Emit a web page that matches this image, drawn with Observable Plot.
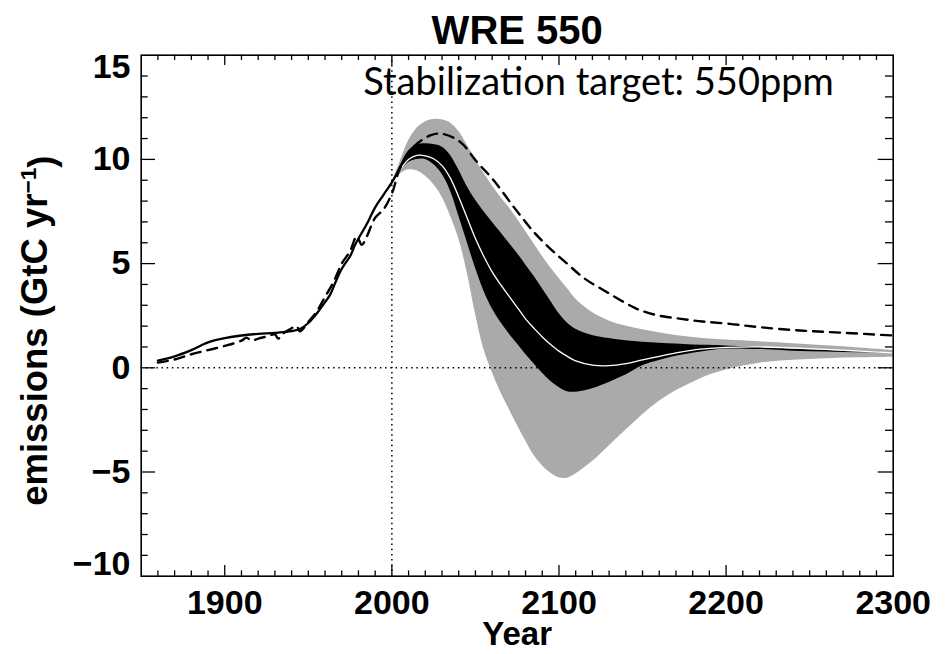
<!DOCTYPE html>
<html><head><meta charset="utf-8">
<script src="https://cdn.jsdelivr.net/npm/d3@7"></script>
<script src="https://cdn.jsdelivr.net/npm/@observablehq/plot@0.6"></script>
<style>body{margin:0;background:#fff}</style>
</head><body><div id="chart"></div>
<script>
// Historical model emissions (solid line)
const histYears = [1860,1870,1880,1890,1900,1910,1920,1930,1940,1945,1950,1955,1960,1963,1966,1969,1972,1975,1978,1980,1985,1990,1995,2000,2005];
const histSolid = [0.35,0.55,0.85,1.22,1.42,1.55,1.63,1.68,1.76,1.86,2.15,2.6,3.15,3.5,4.05,4.6,5.0,5.35,5.9,6.2,6.9,7.7,8.3,8.9,9.6];

// WRE 550 reference pathway (dashed line)
const wreYears = [1860,1870,1880,1890,1900,1910,1913,1916,1920,1925,1930,1932,1935,1940,1943,1945,1950,1955,1960,1965,1970,1975,1979,1982,1985,1990,1995,2000,2005,2013,2023,2030,2041,2051,2061,2073,2085,2095,2105,2115,2127,2140,2149,2160,2173,2186,2202,2220,2244,2270,2300];
const wreValues = [0.25,0.4,0.65,0.85,1.05,1.3,1.45,1.3,1.4,1.5,1.6,1.4,1.65,1.9,2.0,1.75,2.2,2.7,3.4,4.1,5.0,5.6,6.3,5.9,6.3,7.2,7.6,8.35,9.6,10.6,11.15,11.23,10.83,9.87,8.99,7.71,6.51,5.7,4.99,4.3,3.71,3.1,2.75,2.5,2.35,2.22,2.11,1.95,1.79,1.68,1.55];

// Projection uncertainty bands
const bandYears = [2000,2005,2010,2015,2020,2025,2030,2035,2040,2045,2050,2055,2060,2065,2070,2075,2080,2085,2090,2095,2100,2105,2110,2120,2130,2140,2150,2160,2170,2180,2190,2200,2220,2240,2260,2280,2300];
const grayHigh = [8.85,9.9,10.9,11.5,11.8,11.92,11.9,11.75,11.35,10.7,10.0,9.35,8.75,8.2,7.7,7.15,6.55,5.95,5.35,4.8,4.3,3.8,3.3,2.65,2.25,2.0,1.83,1.68,1.55,1.45,1.38,1.33,1.25,1.16,1.06,0.95,0.83];
const grayLow = [8.85,9.3,9.5,9.45,9.2,8.8,8.2,7.3,6.2,4.6,2.6,0.9,-0.2,-1.15,-1.95,-2.75,-3.5,-4.2,-4.7,-5.05,-5.28,-5.3,-5.1,-4.5,-3.75,-3.0,-2.25,-1.6,-1.1,-0.7,-0.35,-0.1,0.22,0.36,0.44,0.48,0.51];
const blackHigh = [8.85,9.7,10.4,10.7,10.75,10.72,10.6,10.2,9.5,8.7,8.05,7.5,7.0,6.5,6.0,5.5,4.95,4.4,3.8,3.2,2.6,2.15,1.85,1.55,1.4,1.3,1.23,1.18,1.14,1.1,1.08,1.05,0.98,0.9,0.83,0.77,0.72];
const blackLow = [8.85,9.4,9.85,10.0,10.0,9.75,9.3,8.5,7.3,6.05,4.8,3.7,2.85,2.2,1.65,1.15,0.65,0.2,-0.25,-0.65,-0.95,-1.15,-1.17,-1.0,-0.7,-0.35,0.1,0.35,0.55,0.7,0.82,0.9,0.88,0.8,0.76,0.72,0.7];
const median = [8.85,9.5,10.0,10.19,10.17,10.03,9.7,9.1,8.2,7.2,6.2,5.35,4.6,4.0,3.45,2.9,2.35,1.9,1.48,1.12,0.8,0.55,0.33,0.13,0.1,0.2,0.38,0.55,0.72,0.85,0.93,0.98,1.0,0.95,0.88,0.8,0.72];

// Axis ticks and labels
const xDomain = [1850, 2300];
const yDomain = [-10, 15];
const xLabelTicks = [1900, 2000, 2100, 2200, 2300];
const xMinorTicks = d3.range(1860, 2300, 10).filter(d => d % 100 !== 0);
const xMajorTicks = [1900, 2000, 2100, 2200];
const yMajorTicks = [-5, 0, 5, 10];
const yMinorTicks = d3.range(-9, 15, 1).filter(d => d % 5 !== 0);
const yLabelMid = [-5, 0, 5, 10];
const titleText = "WRE 550";
const subtitleText = "Stabilization target: 550ppm";
const xLabel = "Year";
const yLabel = "emissions (GtC yr-1)";

const hist = histYears.map((y, i) => ({year: y, value: histSolid[i]}));
const wre = wreYears.map((y, i) => ({year: y, value: wreValues[i]}));
const band = bandYears.map((y, i) => ({year: y, gh: grayHigh[i], gl: grayLow[i], bh: blackHigh[i], bl: blackLow[i], med: median[i]}));

const W = 949, H = 654;
const mL = 140.7, mR = 56.3, mT = 54.7, mB = 78.3;
const fh = H - mT - mB;
const fw = W - mL - mR;
const fmt = d => d < 0 ? "\u2212" + (-d) : String(d);
const font = "Liberation Sans, Arial, Helvetica, sans-serif";
const curve = "catmull-rom";
const lab = {fontSize: 34, fontWeight: "bold", fill: "black", lineAnchor: "middle"};

const plot = Plot.plot({
  width: W, height: H,
  marginLeft: mL, marginRight: mR, marginTop: mT, marginBottom: mB,
  x: {domain: xDomain, axis: null},
  y: {domain: yDomain, axis: null},
  style: {fontFamily: font, background: "#fff", overflow: "visible"},
  marks: [
    Plot.areaY(band, {x: "year", y1: "gl", y2: "gh", fill: "#aaaaaa", curve}),
    Plot.ruleY([0], {stroke: "black", strokeWidth: 1.5, strokeDasharray: "1.5,3.7"}),
    Plot.ruleX([2000], {stroke: "black", strokeWidth: 1.5, strokeDasharray: "1.5,3.7"}),
    Plot.areaY(band, {x: "year", y1: "bl", y2: "bh", fill: "black", curve}),
    Plot.lineY(band, {x: "year", y: "med", stroke: "white", strokeWidth: 1.3, curve}),
    Plot.lineY(hist, {x: "year", y: "value", stroke: "black", strokeWidth: 2.3, curve}),
    Plot.lineY(wre, {x: "year", y: "value", stroke: "black", strokeWidth: 2.4, strokeDasharray: "10,7", curve}),
    // ticks bottom/top
    Plot.tickX(xMajorTicks, {x: d => d, stroke: "black", strokeWidth: 1.3, insetTop: fh - 10.7}),
    Plot.tickX(xMinorTicks, {x: d => d, stroke: "black", strokeWidth: 1.3, insetTop: fh - 5.3}),
    Plot.tickX(xMajorTicks, {x: d => d, stroke: "black", strokeWidth: 1.3, insetBottom: fh - 10.3}),
    Plot.tickX(xMinorTicks, {x: d => d, stroke: "black", strokeWidth: 1.3, insetBottom: fh - 5.3}),
    // ticks left/right
    Plot.tickY(yMajorTicks, {y: d => d, stroke: "black", strokeWidth: 1.3, insetRight: fw - 14.3}),
    Plot.tickY(yMinorTicks, {y: d => d, stroke: "black", strokeWidth: 1.3, insetRight: fw - 7}),
    Plot.tickY(yMajorTicks, {y: d => d, stroke: "black", strokeWidth: 1.3, insetLeft: fw - 15}),
    Plot.tickY(yMinorTicks, {y: d => d, stroke: "black", strokeWidth: 1.3, insetLeft: fw - 7.7}),
    Plot.frame({stroke: "black", strokeWidth: 1.6}),
    // tick labels
    Plot.text(xLabelTicks, {x: d => d, text: d => String(d), frameAnchor: "bottom", textAnchor: "middle", dy: 26.7, ...lab}),
    Plot.text(yLabelMid, {y: d => d, text: fmt, frameAnchor: "left", textAnchor: "end", dx: -10.7, ...lab}),
    Plot.text([15], {y: d => d, text: fmt, frameAnchor: "left", textAnchor: "end", dx: -10.7, dy: 11.5, ...lab}),
    Plot.text([-10], {y: d => d, text: fmt, frameAnchor: "left", textAnchor: "end", dx: -10.7, dy: -11.7, ...lab}),
    // titles
    Plot.text([titleText], {frameAnchor: "top", textAnchor: "middle", dy: -24.2, ...lab, fontSize: 40}),
    Plot.text([subtitleText], {frameAnchor: "top-right", textAnchor: "end", lineAnchor: "middle", dx: -59.4, dy: 28.1, fontSize: 38, fontFamily: "Lato, sans-serif", fill: "black"}),
    Plot.text([xLabel], {frameAnchor: "bottom", textAnchor: "middle", dy: 58.5, ...lab, fontSize: 33}),
    Plot.text([yLabel], {frameAnchor: "left", textAnchor: "middle", rotate: -90, dx: -106, dy: 15, ...lab, fontSize: 36.5})
  ]
});
document.getElementById("chart").appendChild(plot);

// superscript for the unit
d3.select(plot).selectAll("text").each(function() {
  const t = d3.select(this);
  if (t.text() === yLabel) {
    t.text(null);
    t.append("tspan").text("emissions (GtC yr");
    t.append("tspan").attr("dy", "-0.5em").attr("font-size", "62%").text("\u22121");
    t.append("tspan").attr("dy", "0.5em").text(")");
  }
});
</script>
</body></html>
